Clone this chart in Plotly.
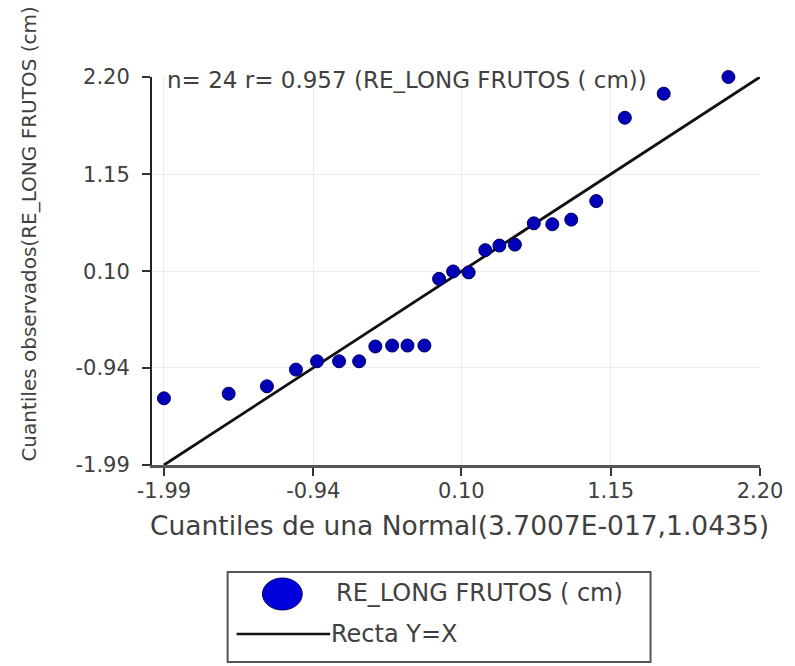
import plotly.graph_objects as go

# Theoretical normal quantiles (x) and observed quantiles (y)
teoricos = [-1.99, -1.535, -1.266, -1.062, -0.914, -0.759, -0.618, -0.504,
            -0.386, -0.278, -0.159, -0.056, 0.043, 0.152, 0.269, 0.368,
            0.477, 0.610, 0.740, 0.873, 1.049, 1.250, 1.523, 1.978]
observados = [-1.27, -1.22, -1.14, -0.96, -0.87, -0.87, -0.87, -0.71,
              -0.70, -0.70, -0.70, 0.02, 0.10, 0.09, 0.33, 0.38,
              0.39, 0.62, 0.61, 0.66, 0.86, 1.76, 2.02, 2.20]
recta = [-1.99, 2.20]
tick_vals = [-1.99, -0.94, 0.10, 1.15, 2.20]
tick_text = ["-1.99", "-0.94", "0.10", "1.15", "2.20"]

W, H = 795, 666
L, R, T, B = 152, 32, 77, 201
PW, PH = W - L - R, H - T - B

def px(xp):
    return (xp - L) / PW

def py(yp):
    return (H - B - yp) / PH

FONT = "DejaVu Sans"
TXT = "#404040"

fig = go.Figure()
fig.add_trace(go.Scatter(x=recta, y=recta, mode="lines", name="Recta Y=X",
                         line=dict(color="#111111", width=2.8),
                         showlegend=False, hoverinfo="skip", cliponaxis=False))
fig.add_trace(go.Scatter(x=teoricos, y=observados, mode="markers",
                         name="RE_LONG FRUTOS ( cm)", cliponaxis=False,
                         marker=dict(size=13, color="#0000B8",
                                     line=dict(color="#00005A", width=1)),
                         showlegend=False))

axis_common = dict(
    tickvals=tick_vals, ticktext=tick_text,
    showgrid=True, gridcolor="#EBEBEB", gridwidth=1,
    zeroline=False, showline=True,
    ticks="outside", ticklen=8, tickwidth=2, tickcolor="#333333",
    tickfont=dict(family=FONT, size=21, color=TXT),
)
fig.update_xaxes(range=[-2.074, 2.20], linecolor="#555555", linewidth=3,
                 ticklabelstandoff=-3, **axis_common)
fig.update_yaxes(range=[-1.99, 2.20], linecolor="#222222", linewidth=2,
                 ticklabelstandoff=8, **axis_common)

annotations = [
    dict(text="n= 24 r= 0.957 (RE_LONG FRUTOS ( cm))", x=px(165), y=py(80),
         xref="paper", yref="paper", xanchor="left", yanchor="middle",
         showarrow=False, font=dict(family=FONT, size=23, color=TXT)),
    dict(text="Cuantiles de una Normal(3.7007E-017,1.0435)", x=px(461), y=py(525),
         xref="paper", yref="paper", xanchor="center", yanchor="middle",
         showarrow=False, font=dict(family=FONT, size=26.5, color=TXT)),
    dict(text="Cuantiles observados(RE_LONG FRUTOS (cm)", x=px(28), y=py(234),
         xref="paper", yref="paper", xanchor="center", yanchor="middle",
         textangle=-90, showarrow=False,
         font=dict(family=FONT, size=20, color=TXT)),
    dict(text="RE_LONG FRUTOS ( cm)", x=px(335), y=py(593),
         xref="paper", yref="paper", xanchor="left", yanchor="middle",
         showarrow=False, font=dict(family=FONT, size=24, color=TXT)),
    dict(text="Recta Y=X", x=px(330), y=py(634),
         xref="paper", yref="paper", xanchor="left", yanchor="middle",
         showarrow=False, font=dict(family=FONT, size=24, color=TXT)),
]

shapes = [
    dict(type="rect", xref="paper", yref="paper",
         x0=px(228), x1=px(653), y0=py(662), y1=py(572),
         line=dict(color="#555555", width=2), fillcolor="rgba(0,0,0,0)"),
    dict(type="circle", xref="paper", yref="paper",
         x0=px(263), x1=px(303), y0=py(610), y1=py(578),
         line=dict(color="#00005A", width=1), fillcolor="#0000DC"),
    dict(type="line", xref="paper", yref="paper",
         x0=px(237), x1=px(331), y0=py(634), y1=py(634),
         line=dict(color="#111111", width=2.5)),
]

fig.update_layout(
    width=W, height=H,
    margin=dict(l=L, r=R, t=T, b=B),
    paper_bgcolor="white", plot_bgcolor="white",
    annotations=annotations, shapes=shapes,
    showlegend=False,
)

fig.write_html("out.html")
